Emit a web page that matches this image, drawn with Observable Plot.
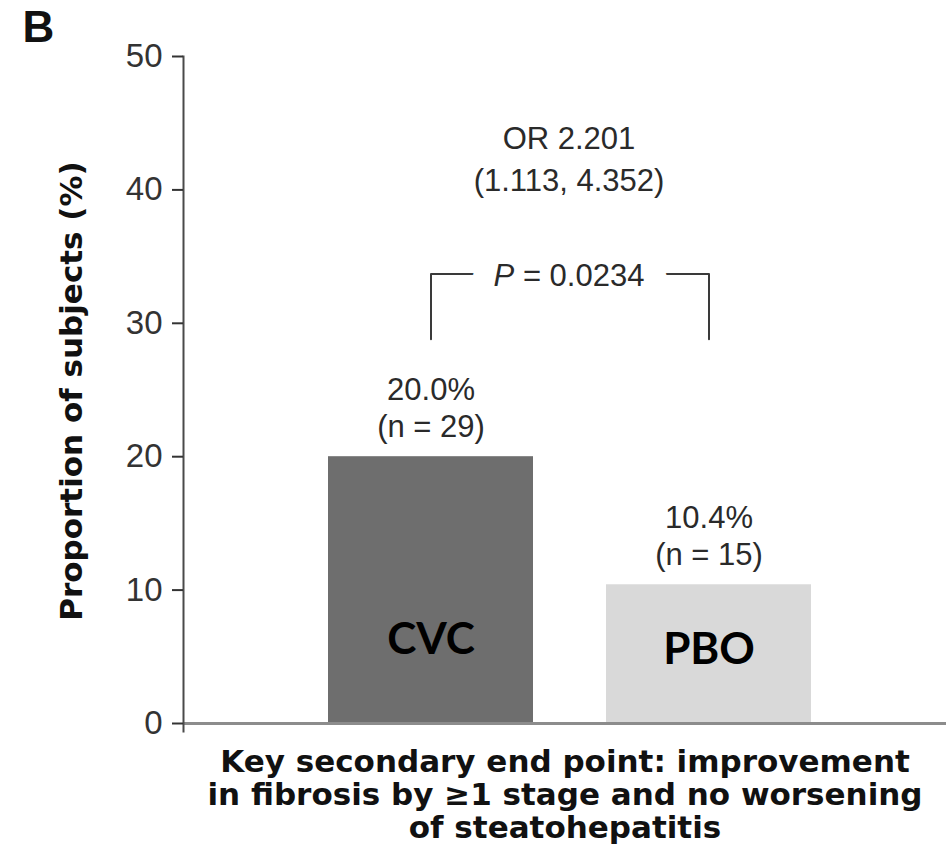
<!DOCTYPE html>
<html>
<head>
<meta charset="utf-8">
<script src="https://cdn.jsdelivr.net/npm/d3@7"></script>
<script src="https://cdn.jsdelivr.net/npm/@observablehq/plot@0.6"></script>
<style>
  body { margin: 0; background: #fff; }
  #chart svg { display: block; }
</style>
</head>
<body>
<div id="chart"></div>
<script>
// Treatment groups and the share of subjects reaching the end point
const groups = ["CVC", "PBO"];
const percents = [20.0, 10.4];
const counts = [29, 15];
const yTicks = [0, 10, 20, 30, 40, 50];

// Texts
const panelLetter = "B";
const yTitle = "Proportion of subjects (%)";
const xTitle = "Key secondary end point: improvement\nin fibrosis by \u22651 stage and no worsening\nof steatohepatitis";
const oddsRatio = "OR 2.201\n(1.113, 4.352)";
const pValue = "P = 0.0234";

// Comparison bracket (in % units)
const bracketLow = 28.8;
const bracketHigh = 33.7;

const rows = groups.map((group, i) => ({group, pct: percents[i], n: counts[i]}));
const bracket = [
  {group: groups[0], y: bracketLow},
  {group: groups[0], y: bracketHigh},
  {group: groups[1], y: bracketHigh},
  {group: groups[1], y: bracketLow}
];

const textColor = "#2a2a2a";
const bold = "DejaVu Sans, Liberation Sans, sans-serif";

const chart = Plot.plot({
  width: 946,
  height: 867,
  marginLeft: 183,
  marginRight: 0,
  marginTop: 56,
  marginBottom: 136,
  style: {fontFamily: "Liberation Sans, Arial, sans-serif", background: "#fff"},
  x: {type: "band", domain: groups, range: [254, 885], padding: 0.262, axis: null},
  y: {domain: [0, 50], range: [723, 56], axis: null},
  color: {domain: groups, range: ["#6e6e6e", "#d9d9d9"]},
  marks: [
    Plot.barY(rows, {x: "group", y: "pct", fill: "group"}),
    Plot.ruleY([0], {stroke: "#8c8c8c", strokeWidth: 3}),
    Plot.frame({anchor: "left", stroke: "#4a4a4a", strokeWidth: 2}),
    Plot.axisY({ticks: yTicks, tickSize: 11, tickPadding: 10, fontSize: 33, label: null, color: "#333", strokeWidth: 2}),
    // value labels above the bars
    Plot.text(rows, {
      x: "group", y: "pct",
      text: d => `${d.pct.toFixed(1)}%\n(n = ${d.n})`,
      lineAnchor: "bottom", dy: -20, fontSize: 31, lineHeight: 1.17, fill: textColor
    }),
    // group names inside the bars
    Plot.text(rows, {
      filter: d => d.group === "CVC", x: "group", y: 0, text: "group",
      lineAnchor: "bottom", dy: -70, fontFamily: "Lato, sans-serif", fontWeight: 700, fontSize: 44, fill: "#000"
    }),
    Plot.text(rows, {
      filter: d => d.group === "PBO", x: "group", y: 0, text: "group",
      lineAnchor: "bottom", dy: -60, fontFamily: "Lato, sans-serif", fontWeight: 700, fontSize: 44, fill: "#000"
    }),
    // significance bracket, with a white gap behind the p-value
    Plot.line(bracket, {x: "group", y: "y", stroke: "#3a3a3a", strokeWidth: 2}),
    Plot.text([pValue], {
      y: bracketHigh, text: d => d, dx: 4, dy: 2, fontSize: 31, fill: "white",
      stroke: "white", strokeWidth: 46, strokeLinejoin: "round"
    }),
    Plot.text([pValue], {
      y: bracketHigh, text: d => d, dx: 4, dy: 2, fontSize: 31, fill: textColor
    }),
    Plot.text([oddsRatio], {
      frameAnchor: "top", text: d => d, lineAnchor: "top", dx: 4, dy: 63,
      fontSize: 31, lineHeight: 1.34, fill: textColor
    }),
    // axis titles and panel letter
    Plot.text([xTitle], {
      frameAnchor: "bottom", text: d => d, lineAnchor: "top", dy: 17,
      fontFamily: bold, fontWeight: "bold", fontSize: 31, lineHeight: 1.07, fill: "#111"
    }),
    Plot.text([yTitle], {
      frameAnchor: "left", text: d => d, rotate: -90, textAnchor: "middle", dx: -111, dy: -3,
      fontFamily: bold, fontWeight: "bold", fontSize: 31, fill: "#111"
    }),
    Plot.text([panelLetter], {
      frameAnchor: "top-left", text: d => d, textAnchor: "start", lineAnchor: "top", dx: -161, dy: -46,
      fontWeight: "bold", fontSize: 44, fill: "#111"
    })
  ]
});

// italic P in the p-value label
for (const t of chart.querySelectorAll("text")) {
  if (t.textContent === pValue) {
    t.textContent = "";
    const p = document.createElementNS("http://www.w3.org/2000/svg", "tspan");
    p.setAttribute("font-style", "italic");
    p.textContent = pValue.slice(0, 1);
    t.append(p, pValue.slice(1));
  }
}

document.getElementById("chart").append(chart);
</script>
</body>
</html>
